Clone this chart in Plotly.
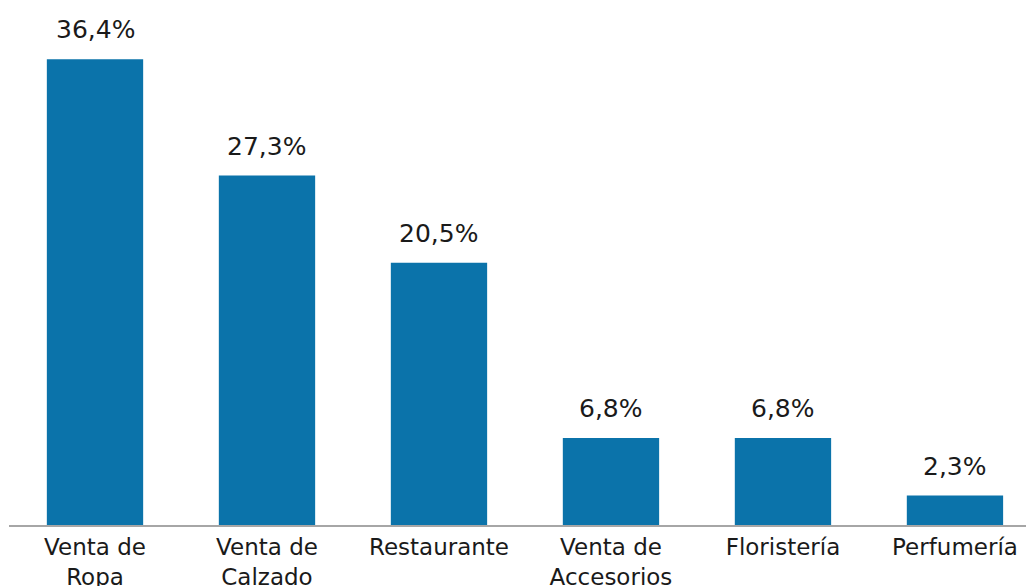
import plotly.graph_objects as go

categories = ["Venta de<br>Ropa", "Venta de<br>Calzado", "Restaurante",
              "Venta de<br>Accesorios", "Floristería", "Perfumería"]
values = [36.4, 27.3, 20.5, 6.8, 6.8, 2.3]
labels = ["36,4%", "27,3%", "20,5%", "6,8%", "6,8%", "2,3%"]

FONT = "DejaVu Sans"

fig = go.Figure(go.Bar(
    x=list(range(len(categories))), y=values,
    marker=dict(color="#0B73AA", line=dict(width=0)),
    width=0.56, hoverinfo="skip",
))

for i, (v, t) in enumerate(zip(values, labels)):
    fig.add_annotation(x=i, y=v, text=t, showarrow=False, yanchor="bottom",
                       yshift=13, font=dict(family=FONT, size=25, color="#1a1a1a"))

fig.update_layout(
    width=1026, height=586,
    margin=dict(l=9, r=0, t=0, b=61, autoexpand=False),
    plot_bgcolor="white", paper_bgcolor="white",
    showlegend=False,
    xaxis=dict(
        range=[-0.5, 5.413], tickmode="array",
        tickvals=list(range(len(categories))), ticktext=categories,
        showgrid=False, zeroline=False, showline=True, automargin=False,
        linecolor="#A6A6A6", linewidth=2, ticks="",
        tickfont=dict(family=FONT, size=23, color="#1a1a1a"),
    ),
    yaxis=dict(range=[0, 41.02], visible=False, showgrid=False, zeroline=False),
)

fig.write_html(
    "out.html",
    config={"displayModeBar": False},
    post_script=(
        "var d=document.documentElement,b=document.body;"
        "d.style.margin='0';b.style.margin='0';"
        "d.style.overflow='hidden';b.style.overflow='hidden';"
        "d.style.height='586px';b.style.height='586px';"
    ),
)
